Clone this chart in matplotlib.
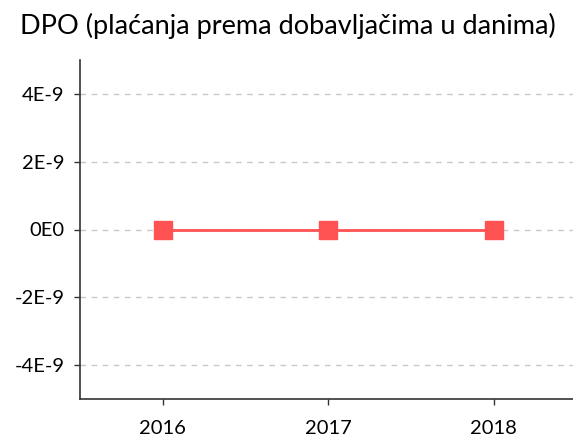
import numpy as np
import matplotlib.pyplot as plt

years = ["2016", "2017", "2018"]
dpo = [0.0, 0.0, 0.0]
yticks = [-4e-9, -2e-9, 0.0, 2e-9, 4e-9]
ytick_labels = ["-4E-9", "-2E-9", "0E0", "2E-9", "4E-9"]

plt.rcParams['font.family'] = ['Lato', 'DejaVu Sans']

fig = plt.figure(figsize=(5.73, 4.42), dpi=100)
ax = fig.add_axes([80/573, 1 - 399/442, 1 - 80/573, 339/442])

x = np.arange(len(years))
ax.plot(x, dpo, color='#ff5252', lw=2, marker='s', ms=13.5, zorder=3)

ax.set_xlim(-0.5, 2.48)
ax.set_ylim(-5e-9, 5e-9)
ax.set_xticks(x)
ax.set_xticklabels(years)
ax.set_yticks(yticks)
ax.set_yticklabels(ytick_labels)
ax.tick_params(labelsize=14.5, length=4, width=1, color='#333333', pad=7)
ax.tick_params(axis='x', pad=11)
ax.grid(axis='y', ls=(0, (4, 4)), color='#c8c8c8', lw=1)
for s in ['top', 'right']:
    ax.spines[s].set_visible(False)
for s in ['left', 'bottom']:
    ax.spines[s].set_color('#333333')
    ax.spines[s].set_linewidth(1.2)

fig.text(0.035, 1 - 26/442, "DPO (plaćanja prema dobavljačima u danima)", fontsize=19.5, va='center', ha='left')

fig.savefig("out.png", dpi=100)
